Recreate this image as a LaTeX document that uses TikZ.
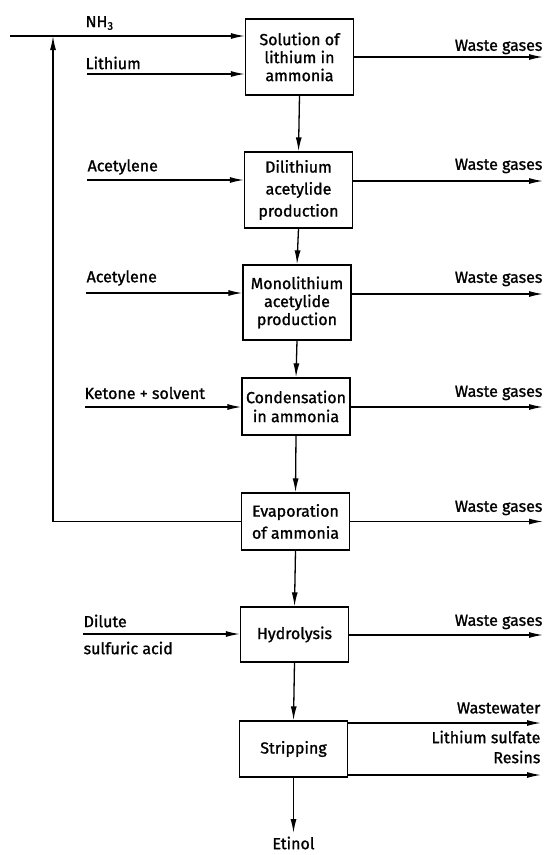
\documentclass[tikz,border=0pt]{standalone}
\usepackage{fontspec}
\setmainfont{Fira Sans}[FakeBold=1.2]
\usetikzlibrary{arrows.meta}
\begin{document}
\begin{tikzpicture}[x=1pt,y=-1pt,
  line width=1.3pt,
  flow/.style={-{Latex[length=14pt,width=6pt]}},
  unit/.style={draw, rectangle, minimum width=108pt, align=center,
    inner sep=2pt, font=\fontsize{16}{18}\selectfont},
  lbl/.style={inner sep=0pt, font=\fontsize{16}{18}\selectfont},
]
\useasboundingbox (0,0) rectangle (547,855);

% process units
\node[unit, minimum height=76pt] (sol)   at (299.5,57)  {Solution of\\lithium in\\ammonia};
\node[unit, minimum height=76pt, font=\fontsize{16}{22}\selectfont] (dil) at (298.5,190) {Dilithium\\acetylide\\production};
\node[unit, minimum height=75pt] (mono)  at (297,302.5) {Monolithium\\acetylide\\production};
\node[unit, minimum height=57pt, font=\fontsize{16}{19}\selectfont] (cond) at (296,406.5) {Condensation\\in ammonia};
\node[unit, minimum height=57pt, font=\fontsize{16}{22}\selectfont] (evap) at (295.5,521.5) {Evaporation\\of ammonia};
\node[unit, minimum height=55pt] (hyd)   at (294.5,634.5) {Hydrolysis};
\node[unit, minimum height=56pt] (strip) at (293.5,749)  {Stripping};

% feed labels
\node[lbl, anchor=west] (lnh3) at (85,23)  {NH\textsubscript{3}};
\node[lbl, anchor=west] (lli)  at (85,63)  {Lithium};
\node[lbl, anchor=west] (lac1) at (87,167) {Acetylene};
\node[lbl, anchor=west] (lac2) at (86,278) {Acetylene};
\node[lbl, anchor=west] (lket) at (84,393) {Ketone + solvent};
\node[lbl, anchor=west] (ldil) at (83,621) {Dilute};
\node[lbl, anchor=west] (lsul) at (83,648) {sulfuric acid};

% product labels
\node[lbl, anchor=east] (w1) at (543,47)  {Waste gases};
\node[lbl, anchor=east] (w2) at (543,166) {Waste gases};
\node[lbl, anchor=east] (w3) at (543,279) {Waste gases};
\node[lbl, anchor=east] (w4) at (543,393) {Waste gases};
\node[lbl, anchor=east] (w5) at (543,508) {Waste gases};
\node[lbl, anchor=east] (w6) at (543,622) {Waste gases};
\node[lbl, anchor=east] (ww) at (541,708) {Wastewater};
\node[lbl, anchor=east] (ls) at (541,737) {Lithium sulfate};
\node[lbl, anchor=east] (rs) at (541,757) {Resins};
\node[lbl] (etinol) at (293.5,843) {Etinol};

% free ends of the feed lines
\coordinate (inNH3) at (10,36);
\coordinate (inLi)  at (87,74);
\coordinate (inAc1) at (87,180);
\coordinate (inAc2) at (86,293);
\coordinate (inKet) at (85,407);
\coordinate (inDil) at (83,634);
\coordinate (recyc) at (53,521.5);

% free ends of the product lines
\coordinate (out1) at (543,57);
\coordinate (out2) at (543,181);
\coordinate (out3) at (543,294);
\coordinate (out4) at (543,407);
\coordinate (out5) at (543,521.5);
\coordinate (out6) at (543,635);
\coordinate (outW) at (541,723);
\coordinate (outR) at (541,775);

% feeds
\draw[flow] (inNH3) -- (inNH3 -| sol.west);
\draw[flow] (inLi)  -- (inLi -| sol.west);
\draw[flow] (inAc1) -- (inAc1 -| dil.west);
\draw[flow] (inAc2) -- (inAc2 -| mono.west);
\draw[flow] (inKet) -- (inKet -| cond.west);
\draw[flow] (inDil) -- (inDil -| hyd.west);

% ammonia recycle
\draw[flow] (evap.west) -- (recyc) -- (recyc |- inNH3);

% main line
\draw[flow] (sol.south)  -- (dil.north);
\draw[flow] (dil.south)  -- (mono.north);
\draw[flow] (mono.south) -- (cond.north);
\draw[flow] (cond.south) -- (evap.north);
\draw[flow] (evap.south) -- (hyd.north);
\draw[flow] (hyd.south)  -- (strip.north);
\draw[flow, shorten >=3pt] (strip.south) -- (etinol.north);

% off-gases and residues
\draw[flow] (out1 -| sol.east)   -- (out1);
\draw[flow] (out2 -| dil.east)   -- (out2);
\draw[flow] (out3 -| mono.east)  -- (out3);
\draw[flow] (out4 -| cond.east)  -- (out4);
\draw[flow] (out5 -| evap.east)  -- (out5);
\draw[flow] (out6 -| hyd.east)   -- (out6);
\draw[flow] (outW -| strip.east) -- (outW);
\draw[flow] (outR -| strip.east) -- (outR);
\end{tikzpicture}
\end{document}
